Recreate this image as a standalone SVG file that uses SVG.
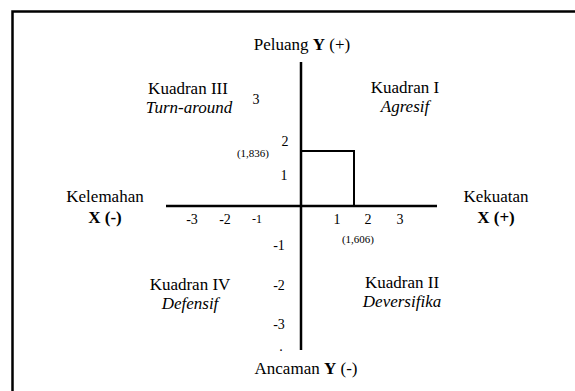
<svg xmlns="http://www.w3.org/2000/svg" width="575" height="391" viewBox="0 0 575 391" font-family="'Liberation Serif', 'Times New Roman', 'DejaVu Serif', serif">
<style>
text{font-family:'Liberation Serif','Times New Roman','DejaVu Serif',serif;fill:#000}
.lb{font-size:17px;text-anchor:middle}
.it{font-style:italic}
.b{font-weight:bold}
.tk{font-size:14px;text-anchor:middle}
.sm{font-size:11px;text-anchor:middle}
.ax{stroke:#000;stroke-width:2.5;fill:none}
.pt{stroke:#000;stroke-width:2;fill:none}
</style>
<rect width="575" height="391" fill="#fff"/>
<path d="M12.5,400 V11.5 H580" fill="none" stroke="#000" stroke-width="2.5"/>
<g id="connectors">
<line class="ax" x1="301" y1="62" x2="301" y2="350"/>
<line class="ax" x1="166" y1="206" x2="437" y2="206"/>
<polyline class="pt" points="301,151 354,151 354,206"/>
</g>
<g id="top"><text class="lb" x="302" y="50">Peluang <tspan class="b">Y</tspan> (+)</text></g>
<g id="bottom"><text class="lb" x="306" y="374">Ancaman <tspan class="b">Y</tspan> (-)</text></g>
<g id="left"><text class="lb" x="105" y="202">Kelemahan</text><text class="lb b" x="105" y="223">X (-)</text></g>
<g id="right"><text class="lb" x="496" y="202">Kekuatan</text><text class="lb b" x="496" y="223">X (+)</text></g>
<g id="q3"><text class="lb" x="188" y="94">Kuadran III</text><text class="lb it" x="189" y="113">Turn-around</text></g>
<g id="q1"><text class="lb" x="405" y="93">Kuadran I</text><text class="lb it" x="405" y="112">Agresif</text></g>
<g id="q4"><text class="lb" x="190" y="290">Kuadran IV</text><text class="lb it" x="190" y="309">Defensif</text></g>
<g id="q2"><text class="lb" x="402" y="288">Kuadran II</text><text class="lb it" x="402" y="307">Deversifika</text></g>
<g id="yticks">
<text class="tk" x="256" y="104">3</text>
<text class="tk" x="285" y="146">2</text>
<text class="tk" x="284" y="180">1</text>
<text class="tk" x="279" y="250">-1</text>
<text class="tk" x="279" y="290">-2</text>
<text class="tk" x="279" y="329">-3</text>
<text class="tk" x="281" y="351">.</text>
</g>
<g id="xticks">
<text class="tk" x="192" y="224">-3</text>
<text class="tk" x="225" y="224">-2</text>
<text class="tk" x="257" y="223" style="font-size:12px">-1</text>
<text class="tk" x="337" y="224">1</text>
<text class="tk" x="368" y="224">2</text>
<text class="tk" x="400" y="224">3</text>
</g>
<g id="point-y"><text class="sm" x="253" y="157">(1,836)</text></g>
<g id="point-x"><text class="sm" x="358" y="243">(1,606)</text></g>
</svg>
